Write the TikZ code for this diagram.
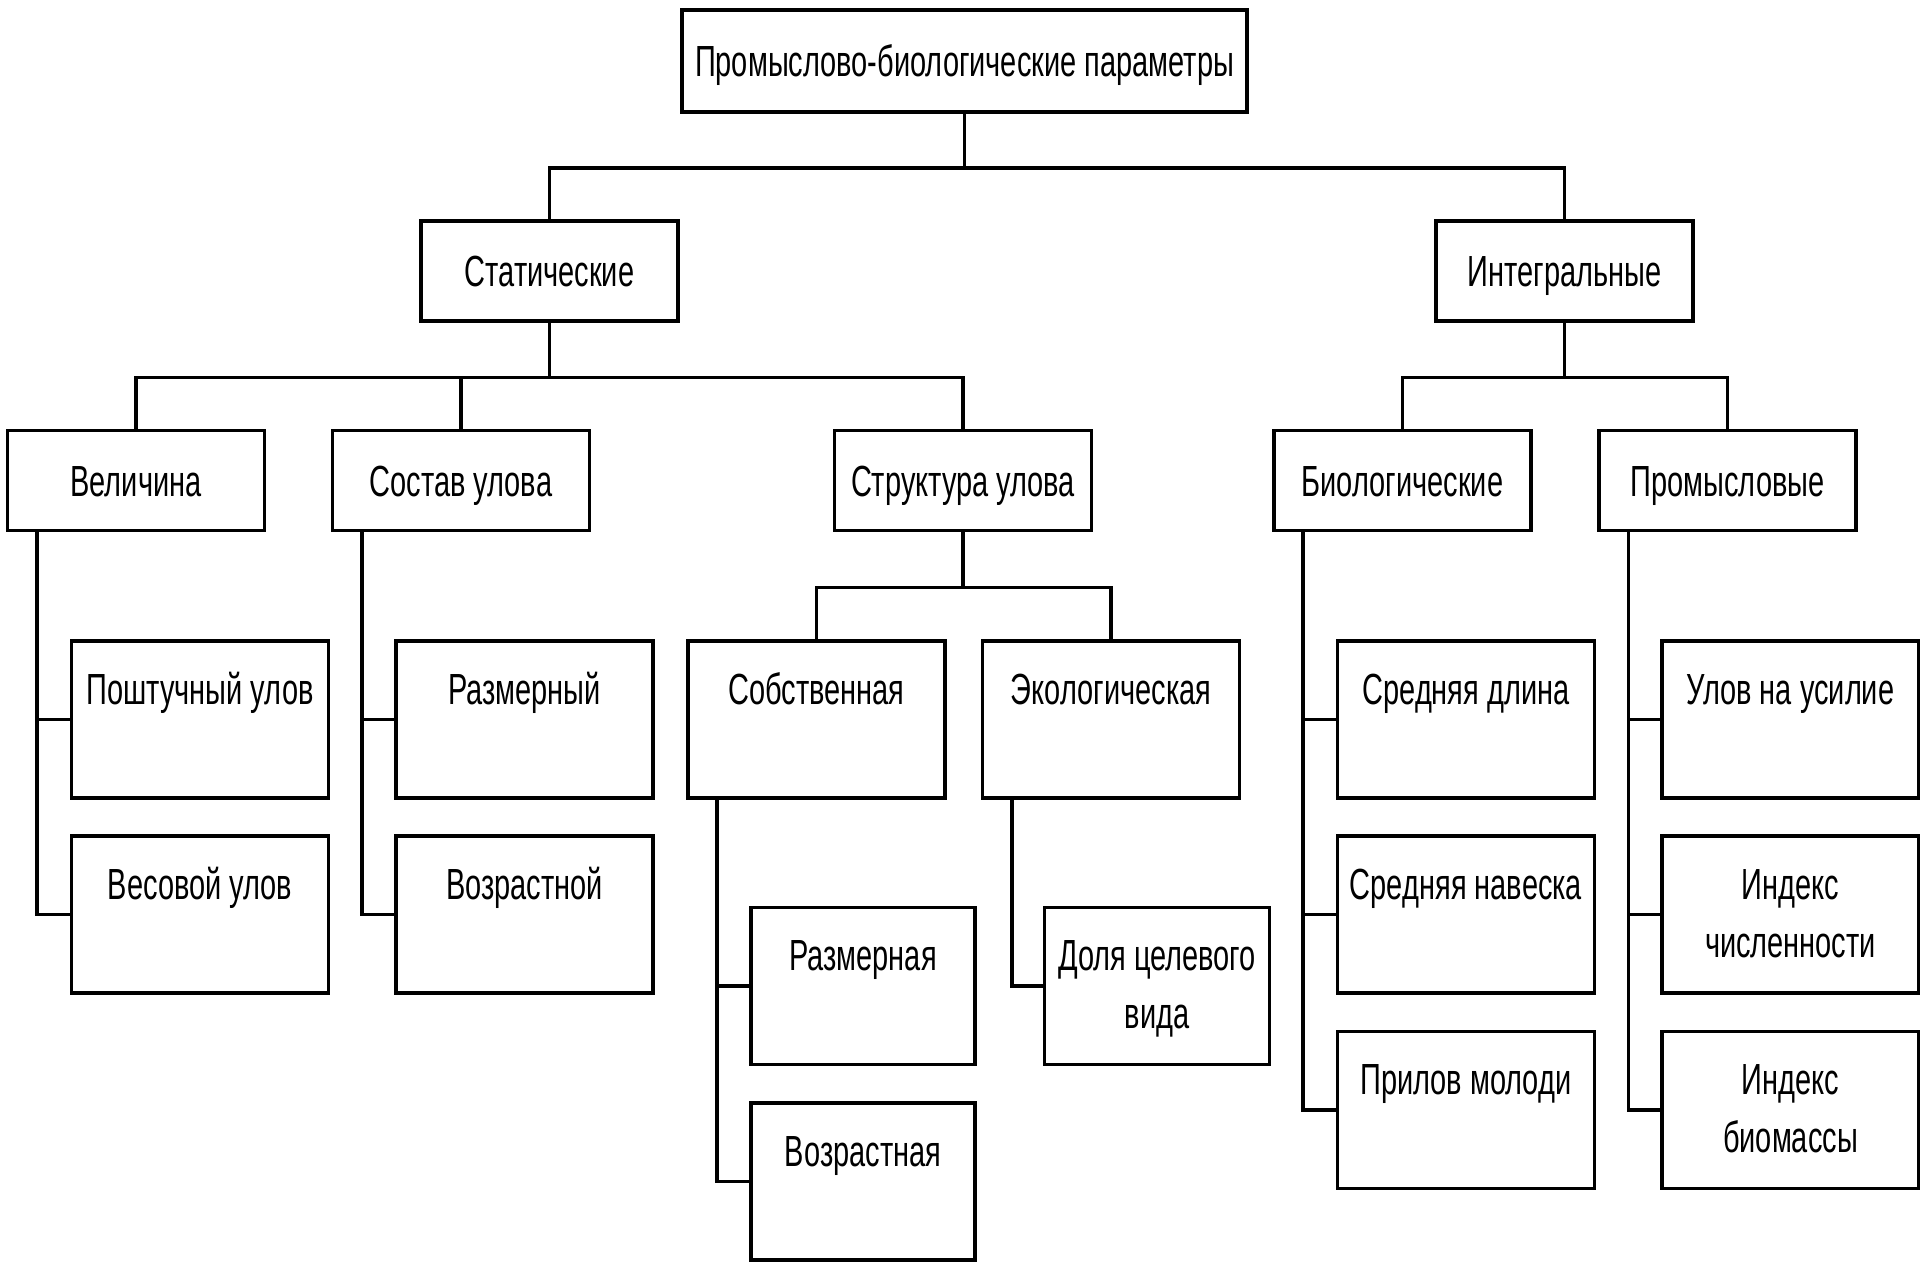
\documentclass[tikz,border=0pt]{standalone}
\usepackage{fontspec}
\setmainfont{Liberation Sans}[FakeStretch=0.665]
\usetikzlibrary{calc}

\begin{document}
\begin{tikzpicture}[x=0.1mm,y=-0.1mm,
  box/.style={draw,line width=1pt,minimum width=25.7mm,minimum height=10mm,
              inner sep=0pt,text height=3.1mm,text depth=0pt,
              font=\fontsize{12.4}{16.5}\selectfont},
  leaf/.style={draw,line width=1pt,minimum width=25.7mm,inner sep=0pt,
               text height=6.3mm,text depth=9.4mm,align=center,
               font=\fontsize{12.4}{16.5}\selectfont},
  leaftwo/.style={leaf,text height=12.1mm,text depth=3.6mm},
  ln/.style={line width=1pt}]
\useasboundingbox (0,0) rectangle (1920,1262);
% top levels
\node[box,minimum width=56.5mm,minimum height=10.2mm] (root) at (964.5,61) {Промыслово-биологические параметры};
\node[box] (stat) at (549.5,271) {Статические};
\node[box] (integr) at (1564.5,271) {Интегральные};
\node[box] (vel) at (136,480.5) {Величина};
\node[box] (sost) at (461,480.5) {Состав улова};
\node[box] (struct) at (963,480.5) {Структура улова};
\node[box] (bio) at (1402.5,480.5) {Биологические};
\node[box] (prom) at (1727.5,480.5) {Промысловые};
% leaves
\node[leaf] (poscht) at (200,719.5) {Поштучный улов};
\node[leaf] (ves) at (200,914.5) {Весовой улов};
\node[leaf] (razm) at (524.5,719.5) {Размерный};
\node[leaf] (vozr) at (524.5,914.5) {Возрастной};
\node[leaf] (sobst) at (816.5,719.5) {Собственная};
\node[leaf] (ekol) at (1111,719.5) {Экологическая};
\node[leaf,minimum width=22.4mm] (razmA) at (863,986) {Размерная};
\node[leaf,minimum width=22.4mm] (vozrA) at (863,1181.5) {Возрастная};
\node[leaftwo,minimum width=22.5mm] (dolya) at (1157,986) {Доля целевого\\вида};
\node[leaf] (sreddl) at (1466,719.5) {Средняя длина};
\node[leaf] (srednav) at (1466,914.5) {Средняя навеска};
\node[leaf] (prilov) at (1466,1110) {Прилов молоди};
\node[leaf] (ulov) at (1790.5,719.5) {Улов на усилие};
\node[leaftwo] (indch) at (1790.5,914.5) {Индекс\\численности};
\node[leaftwo] (indbm) at (1790.5,1110) {Индекс\\биомассы};
% connectors
\draw[ln] (root.south) -- ++(0,-5.4mm) -| (stat.north);
\draw[ln] (root.south) -- ++(0,-5.4mm) -| (integr.north);
\foreach \c in {vel,sost,struct}
  \draw[ln] (stat.south) -- ++(0,-5.45mm) -| (\c.north);
\foreach \c in {bio,prom}
  \draw[ln] (integr.south) -- ++(0,-5.45mm) -| (\c.north);
\foreach \c in {sobst,ekol}
  \draw[ln] (struct.south) -- ++(0,-5.5mm) -| (\c.north);
\foreach \p/\c in {vel/poscht,vel/ves,sost/razm,sost/vozr,sobst/razmA,sobst/vozrA,
                   ekol/dolya,bio/sreddl,bio/srednav,bio/prilov,prom/ulov,prom/indch,prom/indbm}
  \draw[ln] ($(\p.south west)+(3.1mm,0)$) |- (\c.west);
\end{tikzpicture}
\end{document}
